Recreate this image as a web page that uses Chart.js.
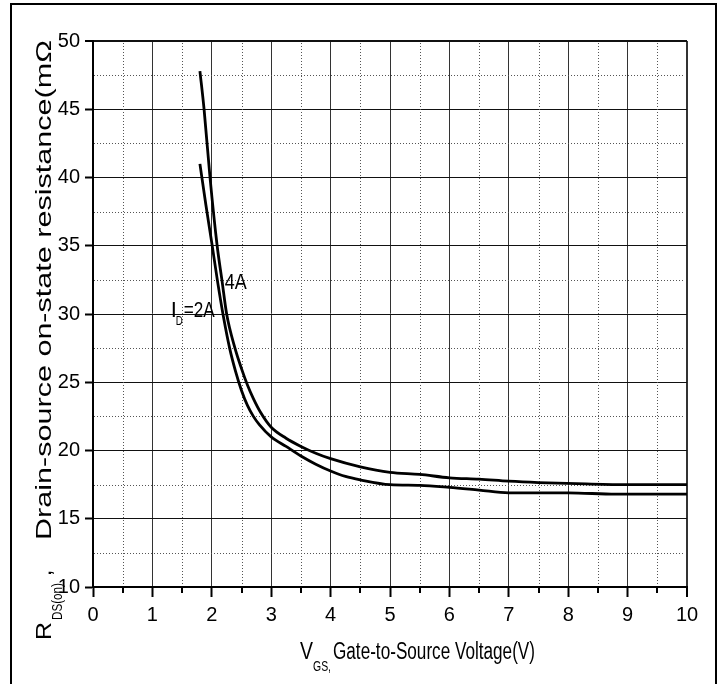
<!DOCTYPE html>
<html>
<head>
<meta charset="utf-8">
<script src="https://cdn.jsdelivr.net/npm/chart.js@4.4.0/dist/chart.umd.min.js"></script>
<style>
    html, body { margin: 0; padding: 0; background: #fff; }
    #wrap { position: relative; width: 724px; height: 684px; overflow: hidden; }
    #frame {
        position: absolute; left: 10px; top: 3px; width: 707px; height: 700px;
        box-sizing: border-box; border: 2px solid #000; border-bottom: none;
    }
    canvas { position: absolute; left: 0; top: 0; }
</style>
</head>
<body>
<div id="wrap">
    <div id="frame"></div>
    <canvas id="rdsChart" width="724" height="684"></canvas>
</div>
<script>
// V_GS (V) and R_DS(on) (mOhm)
const vgs2A = [1.8, 1.9, 2.0, 2.1, 2.2, 2.3, 2.4, 2.5, 2.6, 2.7, 2.8, 3.0, 3.25, 3.5, 3.75, 4.0, 4.25, 4.5, 5.0, 5.5, 6.0, 6.5, 7.0, 8.0, 8.8, 10];
const rds2A = [41.0, 38.0, 35.2, 32.3, 29.7, 27.5, 25.8, 24.4, 23.3, 22.5, 21.9, 21.0, 20.3, 19.6, 19.0, 18.5, 18.1, 17.85, 17.5, 17.45, 17.3, 17.1, 16.9, 16.9, 16.8, 16.8];

const vgs4A = [1.8, 1.87, 1.97, 2.09, 2.17, 2.25, 2.39, 2.5, 2.6, 2.7, 2.82, 3.0, 3.25, 3.5, 3.75, 4.0, 4.5, 5.0, 5.5, 6.0, 6.5, 7.0, 7.5, 8.3, 9.0, 10];
const rds4A = [47.8, 45, 40, 35, 32.5, 30, 27.5, 26.0, 24.8, 23.8, 22.8, 21.7, 20.9, 20.3, 19.8, 19.4, 18.8, 18.4, 18.25, 18.0, 17.9, 17.75, 17.65, 17.55, 17.5, 17.5];

const xMin = 0, xMax = 10, xStep = 1;
const yMin = 10, yMax = 50, yStep = 5;

const FONT = '"Liberation Sans Narrow", "Arial Narrow", "Liberation Sans", Arial, sans-serif';

const toPoints = (xs, ys) => xs.map((x, i) => ({ x: x, y: ys[i] }));

// draw text squeezed/stretched to a given width
function fitText(ctx, str, x, y, size, width, rotate) {
    ctx.save();
    ctx.translate(x, y);
    if (rotate) ctx.rotate(-Math.PI / 2);
    ctx.font = size + "px " + FONT;
    ctx.textBaseline = "alphabetic";
    ctx.textAlign = "left";
    const w = ctx.measureText(str).width;
    if (width) ctx.scale(width / w, 1);
    ctx.fillStyle = "#000";
    ctx.fillText(str, 0, 0);
    ctx.restore();
}

const minorGrid = {
    id: "minorGrid",
    beforeDatasetsDraw(chart) {
        const { ctx, chartArea: a, scales: { x, y } } = chart;
        ctx.save();
        ctx.strokeStyle = "#555";
        ctx.lineWidth = 1;
        ctx.setLineDash([1, 2]);
        for (let v = xMin + xStep / 2; v < xMax; v += xStep) {
            const px = Math.round(x.getPixelForValue(v)) + 0.5;
            ctx.beginPath(); ctx.moveTo(px, a.top + 2); ctx.lineTo(px, a.bottom - 1); ctx.stroke();
        }
        for (let v = yMin + yStep / 2; v < yMax; v += yStep) {
            const py = Math.round(y.getPixelForValue(v)) + 0.5;
            ctx.beginPath(); ctx.moveTo(a.left + 1, py); ctx.lineTo(a.right - 2, py); ctx.stroke();
        }
        ctx.setLineDash([]);
        ctx.strokeStyle = "#000";
        ctx.lineWidth = 2;
        for (let v = xMin + xStep / 2; v < xMax; v += xStep) {
            const px = Math.round(x.getPixelForValue(v));
            ctx.beginPath(); ctx.moveTo(px, a.bottom); ctx.lineTo(px, a.bottom + 6); ctx.stroke();
        }
        ctx.restore();
    },
    afterDraw(chart) {
        const { ctx, scales: { x, y } } = chart;
        // y axis title, rotated
        fitText(ctx, "R", 51, 640, 22, 18, true);
        fitText(ctx, "DS(on)", 62, 620, 14, 37, true);
        fitText(ctx, ",", 51, 576, 22, 0, true);
        fitText(ctx, "Drain-source on-state resistance(mΩ", 51, 540, 22, 500, true);
        // x axis title
        fitText(ctx, "V", 300, 659, 23, 13, false);
        fitText(ctx, "GS,", 313, 671, 14, 18, false);
        fitText(ctx, "Gate-to-Source Voltage(V)", 333, 659, 23, 202, false);
        // curve labels
        const lx = x.getPixelForValue(1.31), ly = y.getPixelForValue(29.8);
        fitText(ctx, "I", lx, ly, 22, 0, false);
        fitText(ctx, "D", lx + 5, ly + 8, 12, 7, false);
        fitText(ctx, "=2A", lx + 13, ly, 22, 31, false);
        fitText(ctx, "4A", x.getPixelForValue(2.22), y.getPixelForValue(31.8), 22, 22, false);
    }
};

const ctx = document.getElementById("rdsChart").getContext("2d");

new Chart(ctx, {
    type: "line",
    data: {
        datasets: [
            {
                label: "ID=2A",
                data: toPoints(vgs2A, rds2A),
                borderColor: "#000",
                borderWidth: 2.8,
                pointRadius: 0,
                cubicInterpolationMode: "monotone",
                fill: false
            },
            {
                label: "ID=4A",
                data: toPoints(vgs4A, rds4A),
                borderColor: "#000",
                borderWidth: 2.8,
                pointRadius: 0,
                cubicInterpolationMode: "monotone",
                fill: false
            }
        ]
    },
    options: {
        responsive: false,
        animation: false,
        events: [],
        layout: { padding: { left: 0, right: 37, top: 41, bottom: 0 } },
        scales: {
            x: {
                type: "linear",
                min: xMin,
                max: xMax,
                afterFit: s => { s.height = 97; },
                ticks: {
                    stepSize: xStep,
                    color: "#000",
                    padding: 6,
                    maxRotation: 0,
                    font: { family: FONT, size: 20 }
                },
                grid: {
                    color: c => "#333",
                    lineWidth: c => (c.tick && c.tick.value === xMax ? 2 : 1),
                    tickColor: "#000",
                    tickLength: 10,
                    tickWidth: 2
                },
                border: { color: "#000", width: 2 }
            },
            y: {
                type: "linear",
                min: yMin,
                max: yMax,
                afterFit: s => { s.width = 93; },
                ticks: {
                    stepSize: yStep,
                    color: "#000",
                    padding: 5,
                    font: { family: FONT, size: 20 }
                },
                grid: {
                    color: "#111",
                    lineWidth: c => (c.tick && c.tick.value === yMax ? 2 : 1),
                    tickColor: "#000",
                    tickLength: 8,
                    tickWidth: 2
                },
                border: { color: "#000", width: 2 }
            }
        },
        plugins: {
            legend: { display: false },
            title: { display: false },
            tooltip: { enabled: false }
        }
    },
    plugins: [minorGrid]
});
</script>
</body>
</html>
